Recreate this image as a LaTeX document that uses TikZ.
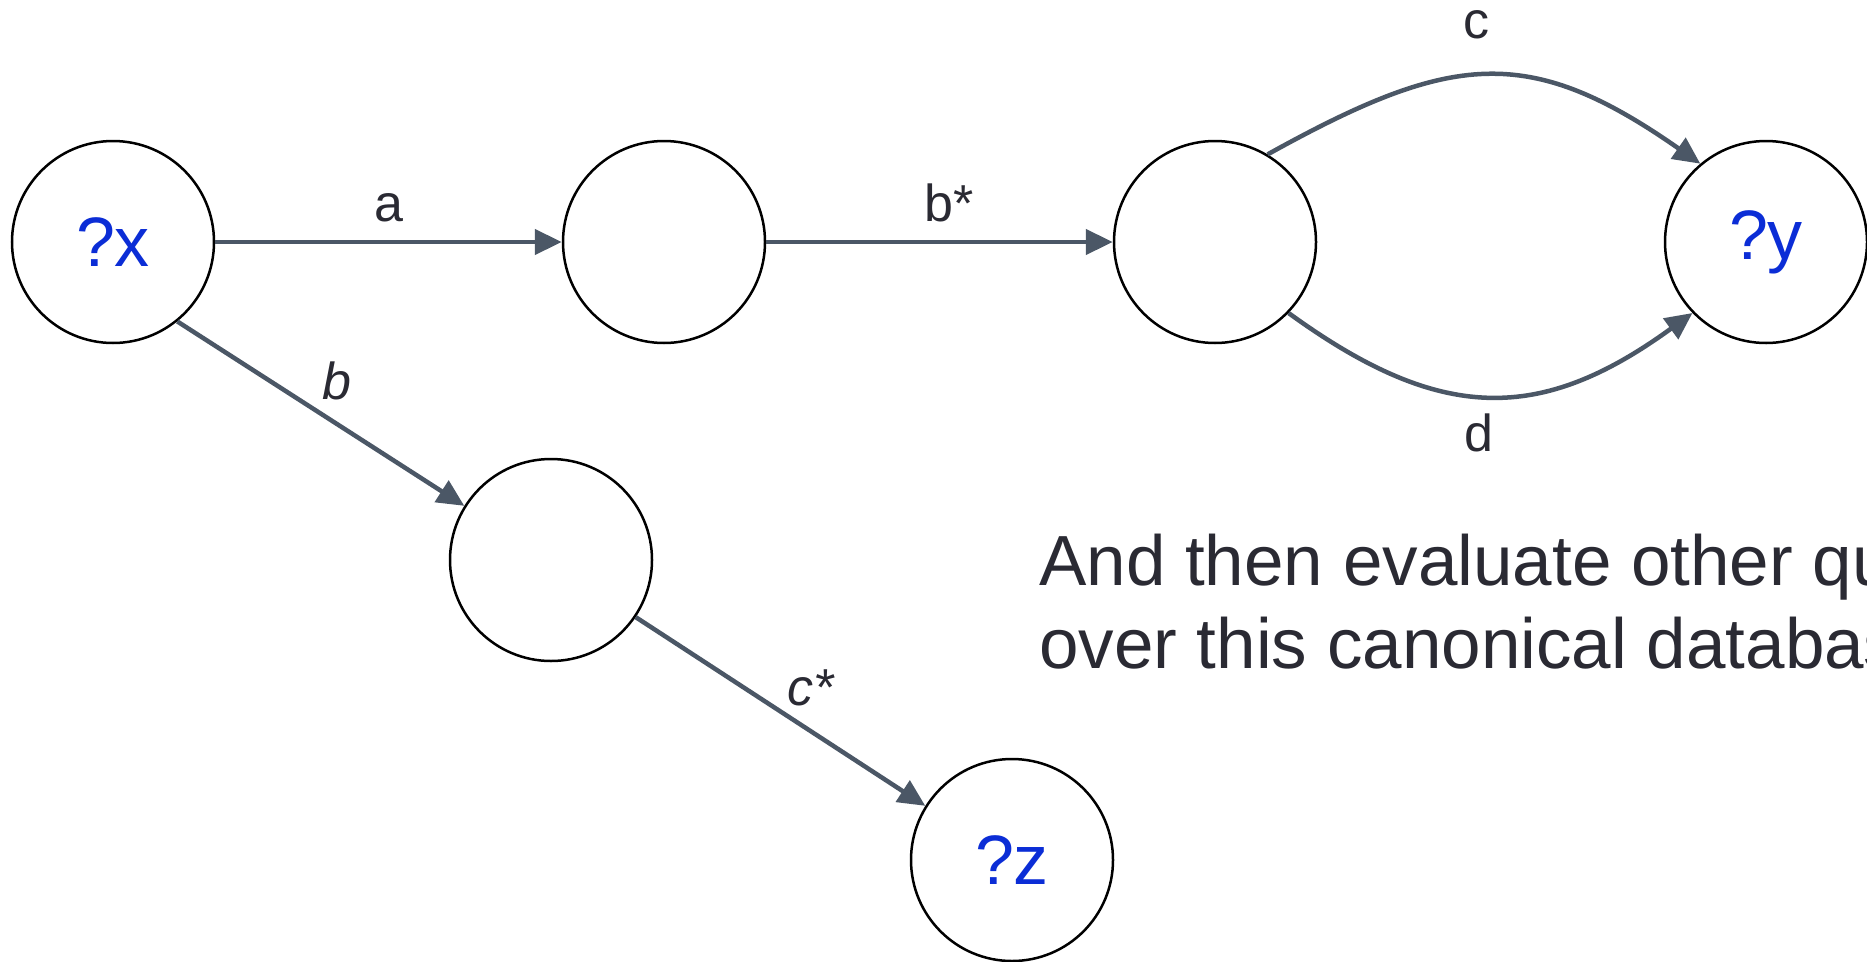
\documentclass[tikz,border=0pt]{standalone}
\usepackage{fontspec}
\setmainfont{Liberation Sans}
\usetikzlibrary{arrows.meta,positioning}
\definecolor{edgegray}{HTML}{4B5766}
\definecolor{varblue}{HTML}{0B2DD6}
\definecolor{inkdark}{HTML}{2A2A33}

\begin{document}
\begin{tikzpicture}[node distance=346.5pt, state/.style={draw,circle,line width=2.5pt,minimum size=202pt,inner sep=0pt,text=varblue,font=\fontsize{70}{84}\selectfont}, edge/.style={draw=edgegray,line width=4.5pt,->}, lbl/.style={text=inkdark,inner sep=0pt,font=\fontsize{52}{62}\selectfont}, note/.style={anchor=base west,text=inkdark,inner sep=0pt,font=\fontsize{71}{83}\selectfont}, >={Triangle[length=27pt,width=25pt]}]
\useasboundingbox (0pt,0pt) rectangle (1867pt,-961pt);
\clip (0pt,0pt) rectangle (1867pt,-961pt);
\node[state] (x) at (113pt,-242pt) {?x};
\node[state,right=of x] (p) {};
\node[state,right=of p] (q) {};
\node[state,right=of q] (y) {?y};
\node[state] (r) at (551pt,-560pt) {};
\node[state] (z) at (1012pt,-860pt) {?z};
\draw[edge] (x) -- node[lbl,above=18pt] {a} (p);
\draw[edge] (p) -- node[lbl,above=18pt,xshift=10pt] {b*} (q);
\draw[edge] (x.-51) -- node[lbl,shift={(16pt,33pt)}] {\itshape b} (r.148);
\draw[edge] (r.-34) -- node[lbl,shift={(30pt,24pt)}] {\itshape c*} (z.148);
\draw[edge] (q.59) .. controls +(29:210pt) and +(145:210pt) .. node[lbl,above=34pt,xshift=-12pt] {c} (y.130);
\draw[edge] (q.-44) .. controls +(-36:188pt) and +(-144:188pt) .. node[lbl,below=16pt,xshift=-12pt] {d} (y.-136);
\node[note] (t1) at (1039pt,-585pt) {And then evaluate other queries};
\node[note] (t2) at (1039pt,-668pt) {over this canonical database};
\end{tikzpicture}
\end{document}
